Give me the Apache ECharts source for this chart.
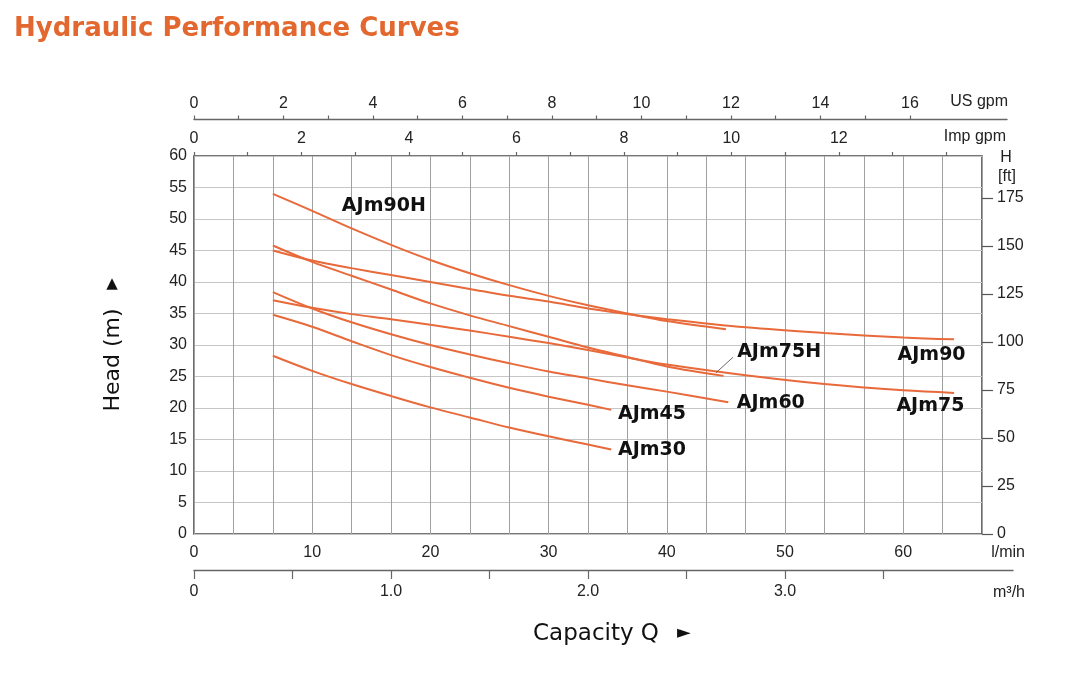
<!DOCTYPE html>
<html>
<head>
<meta charset="utf-8">
<script src="https://cdn.jsdelivr.net/npm/echarts/dist/echarts.min.js"></script>
<style>
html,body{margin:0;padding:0;background:#fff;}
#chart{width:1074px;height:691px;}
</style>
</head>
<body>
<div id="chart"></div>
<script>
// ---------- DATA (flow in l/min, head in m) ----------
const curveNames = ['AJm90H', 'AJm90', 'AJm75H', 'AJm75', 'AJm60', 'AJm45', 'AJm30'];

const flowAJm90H = [6.67, 10, 13.33, 16.67, 20, 23.33, 26.67, 30, 33.33, 36.67, 40, 45];
const headAJm90H = [54.0, 51.3, 48.5, 45.9, 43.5, 41.4, 39.5, 37.8, 36.3, 35.0, 33.8, 32.5];

const flowAJm90 = [6.67, 10, 13.33, 16.67, 20, 23.33, 26.67, 30, 33.33, 36.67, 40, 46.67, 53.33, 60, 64.3];
const headAJm90 = [45.0, 43.4, 42.2, 41.1, 40.0, 38.9, 37.8, 36.9, 35.8, 34.9, 34.1, 32.8, 31.9, 31.2, 30.9];

const flowAJm75H = [6.67, 10, 13.33, 16.67, 20, 23.33, 26.67, 30, 33.33, 36.67, 40, 44.8];
const headAJm75H = [45.8, 43.2, 41.0, 38.8, 36.6, 34.7, 33.0, 31.3, 29.6, 28.1, 26.6, 25.1];

const flowAJm75 = [6.67, 10, 13.33, 16.67, 20, 23.33, 26.67, 30, 33.33, 36.67, 40, 46.67, 53.33, 60, 64.3];
const headAJm75 = [37.1, 35.9, 34.9, 34.1, 33.2, 32.3, 31.3, 30.3, 29.2, 28.0, 26.9, 25.2, 23.8, 22.8, 22.4];

const flowAJm60 = [6.67, 10, 13.33, 16.67, 20, 23.33, 26.67, 30, 33.33, 36.67, 40, 45.2];
const headAJm60 = [38.4, 35.8, 33.6, 31.7, 30.0, 28.5, 27.1, 25.8, 24.7, 23.6, 22.6, 20.9];

const flowAJm45 = [6.67, 10, 13.33, 16.67, 20, 23.33, 26.67, 30, 33.33, 35.3];
const headAJm45 = [34.8, 32.9, 30.6, 28.4, 26.5, 24.8, 23.2, 21.8, 20.5, 19.7];

const flowAJm30 = [6.67, 10, 13.33, 16.67, 20, 23.33, 26.67, 30, 33.33, 35.3];
const headAJm30 = [28.3, 25.9, 23.8, 21.9, 20.1, 18.5, 16.9, 15.5, 14.2, 13.4];

// axis ranges / ticks
const flowMax = 200 / 3;           // l/min  (= 4.0 m3/h)
const headMax = 60;                // m
const headTicks = 5;
const flowLabelStep = 10;          // l/min labels
const m3hGridStep = 0.2;           // m3/h grid lines
const m3hTickStep = 0.5;
const m3hTickMax = 3.5;
const usTickMax = 16;
const impTickMax = 14;
const ftTickMax = 175;
const ftStep = 25;

// unit conversions
const L_PER_USGAL = 3.78541;
const L_PER_IMPGAL = 4.54609;
const LMIN_PER_M3H = 1000 / 60;
const FT_PER_M = 3.28084;

// ---------- LAYOUT ----------
const plotL = 194, plotT = 156, plotW = 788, plotH = 378;
const pxPerLmin = plotW / flowMax;
const usLineW = 813, usTop = 119.5;
const m3LineW = 819, m3Top = 570;

const curveColor = '#E8693A';
const labelFont = 'DejaVu Sans';
const tickFont = 'Liberation Sans';

const flows = {AJm90H: flowAJm90H, AJm90: flowAJm90, AJm75H: flowAJm75H, AJm75: flowAJm75, AJm60: flowAJm60, AJm45: flowAJm45, AJm30: flowAJm30};
const heads = {AJm90H: headAJm90H, AJm90: headAJm90, AJm75H: headAJm75H, AJm75: headAJm75, AJm60: headAJm60, AJm45: headAJm45, AJm30: headAJm30};
// label centres (data coordinates)
const labelAt = {AJm90H: [16.06, 52.1], AJm90: [62.4, 28.4], AJm75H: [49.5, 28.8], AJm75: [62.3, 20.3], AJm60: [48.8, 20.8], AJm45: [38.75, 19.05], AJm30: [38.75, 13.3]};

const tickText = {fontFamily: tickFont, fontSize: 16, color: '#222'};
const noLine = {show: false, onZero: false};
const hiddenX = (gi) => ({type: 'value', gridIndex: gi, show: false, min: 0, max: 1, axisLine: noLine});
const hiddenY = (gi) => ({type: 'value', gridIndex: gi, show: false, min: 0, max: 1, axisLine: noLine});

const series = curveNames.map(name => {
  const s = {
    name: name,
    type: 'line',
    xAxisIndex: 0,
    yAxisIndex: 0,
    smooth: 0.35,
    symbol: 'none',
    lineStyle: {color: curveColor, width: 2},
    data: flows[name].map((q, i) => [q, heads[name][i]]),
    markPoint: {
      silent: true,
      symbol: 'circle',
      symbolSize: 1,
      itemStyle: {color: 'rgba(0,0,0,0)'},
      label: {show: true, position: 'inside', formatter: name, color: '#111', fontFamily: labelFont, fontWeight: 'bold', fontSize: 19},
      data: [{coord: labelAt[name]}]
    }
  };
  if (name === 'AJm75H') {
    s.markLine = {
      silent: true,
      symbol: ['none', 'none'],
      label: {show: false},
      lineStyle: {color: '#444', width: 0.8, type: 'solid'},
      data: [[{coord: [44.16, 25.6]}, {coord: [45.6, 28.05]}]]
    };
  }
  return s;
});

const ftH = plotH * (ftTickMax / FT_PER_M) / headMax;

const option = {
  animation: false,
  backgroundColor: '#fff',
  grid: [
    {left: plotL, top: plotT, width: plotW, height: plotH, show: true, borderColor: '#4a4a4a', borderWidth: 1.6},   // 0 main
    {left: plotL, top: plotT + plotH - ftH, width: plotW, height: ftH},                                               // 1 ft
    {left: plotL, top: usTop, width: usLineW, height: 1},                                                             // 2 US line
    {left: plotL, top: usTop, width: usTickMax * L_PER_USGAL * pxPerLmin, height: 1},                                 // 3 US ticks
    {left: plotL, top: plotT, width: impTickMax * L_PER_IMPGAL * pxPerLmin, height: 1},                               // 4 Imp ticks
    {left: plotL, top: m3Top, width: m3LineW, height: 1},                                                             // 5 m3/h line
    {left: plotL, top: m3Top, width: m3hTickMax * LMIN_PER_M3H * pxPerLmin, height: 1}                                // 6 m3/h ticks
  ],
  xAxis: [
    { // 0 l/min
      type: 'value', gridIndex: 0, position: 'bottom', min: 0, max: flowMax, interval: flowLabelStep,
      axisLine: noLine, axisTick: {show: false}, splitLine: {show: false},
      axisLabel: Object.assign({margin: 11, showMaxLabel: false, formatter: v => v <= 60 ? String(v) : ''}, tickText)
    },
    { // 1 grid lines every 0.2 m3/h
      type: 'value', gridIndex: 0, position: 'bottom', min: 0, max: flowMax / LMIN_PER_M3H, interval: m3hGridStep,
      axisLine: noLine, axisTick: {show: false}, axisLabel: {show: false},
      splitLine: {show: true, lineStyle: {color: '#a0a0a0', width: 1}}
    },
    hiddenX(1), // 2
    { // 3 US gpm line
      type: 'value', gridIndex: 2, position: 'top', min: 0, max: 1,
      axisLine: {show: true, onZero: false, lineStyle: {color: '#666', width: 1.4}}, axisTick: {show: false}, axisLabel: {show: false}, splitLine: {show: false}
    },
    { // 4 US gpm ticks
      type: 'value', gridIndex: 3, position: 'top', min: 0, max: usTickMax, interval: 2,
      axisLine: noLine,
      axisTick: {show: true, length: 4, lineStyle: {color: '#666', width: 1.2}},
      minorTick: {show: true, splitNumber: 2, length: 4, lineStyle: {color: '#666', width: 1.2}},
      axisLabel: Object.assign({margin: 8}, tickText), splitLine: {show: false}
    },
    { // 5 Imp gpm ticks
      type: 'value', gridIndex: 4, position: 'top', min: 0, max: impTickMax, interval: 2,
      axisLine: noLine,
      axisTick: {show: true, length: 4, lineStyle: {color: '#666', width: 1.2}},
      minorTick: {show: true, splitNumber: 2, length: 4, lineStyle: {color: '#666', width: 1.2}},
      axisLabel: Object.assign({margin: 9, formatter: v => v === 14 ? '' : String(v)}, tickText), splitLine: {show: false}
    },
    { // 6 m3/h line
      type: 'value', gridIndex: 5, position: 'top', min: 0, max: 1,
      axisLine: {show: true, onZero: false, lineStyle: {color: '#666', width: 1.4}}, axisTick: {show: false}, axisLabel: {show: false}, splitLine: {show: false}
    },
    { // 7 m3/h ticks
      type: 'value', gridIndex: 6, position: 'top', min: 0, max: m3hTickMax, interval: m3hTickStep,
      axisLine: noLine,
      axisTick: {show: true, inside: true, length: 9, lineStyle: {color: '#666', width: 1.2}},
      axisLabel: Object.assign({margin: -14, verticalAlign: 'top', formatter: v => v === 0 ? '0' : (Number.isInteger(v) ? v.toFixed(1) : '')}, tickText),
      splitLine: {show: false}
    }
  ],
  yAxis: [
    { // 0 head m
      type: 'value', gridIndex: 0, position: 'left', min: 0, max: headMax, interval: headTicks,
      axisLine: noLine, axisTick: {show: false},
      axisLabel: Object.assign({margin: 7}, tickText),
      splitLine: {show: true, lineStyle: {color: '#c6c6c6', width: 1}}
    },
    { // 1 head ft
      type: 'value', gridIndex: 1, position: 'right', min: 0, max: ftTickMax, interval: ftStep,
      axisLine: noLine,
      axisTick: {show: true, length: 11, lineStyle: {color: '#555', width: 1.2}},
      axisLabel: Object.assign({margin: 15}, tickText),
      splitLine: {show: false}
    },
    hiddenY(2), hiddenY(3), hiddenY(4), hiddenY(5), hiddenY(6)
  ],
  series: series,
  graphic: [
    {type: 'text', left: 14, top: 16, style: {text: 'Hydraulic Performance Curves', fill: '#E2682F', font: 'bold 26px "DejaVu Sans"'}},
    {type: 'text', x: 1008, y: 102, style: {text: 'US gpm', fill: '#222', font: '16px "Liberation Sans"', textAlign: 'right', textVerticalAlign: 'middle'}},
    {type: 'text', x: 1006, y: 137, style: {text: 'Imp gpm', fill: '#222', font: '16px "Liberation Sans"', textAlign: 'right', textVerticalAlign: 'middle'}},
    {type: 'text', x: 1006, y: 158, style: {text: 'H', fill: '#222', font: '16px "Liberation Sans"', textAlign: 'center', textVerticalAlign: 'middle'}},
    {type: 'text', x: 1007, y: 177, style: {text: '[ft]', fill: '#222', font: '16px "Liberation Sans"', textAlign: 'center', textVerticalAlign: 'middle'}},
    {type: 'text', x: 1025, y: 553, style: {text: 'l/min', fill: '#222', font: '16px "Liberation Sans"', textAlign: 'right', textVerticalAlign: 'middle'}},
    {type: 'text', x: 1025, y: 593, style: {text: 'm³/h', fill: '#222', font: '16px "Liberation Sans"', textAlign: 'right', textVerticalAlign: 'middle'}},
    {type: 'text', x: 596, y: 634, style: {text: 'Capacity Q', fill: '#111', font: '23px "DejaVu Sans"', textAlign: 'center', textVerticalAlign: 'middle'}},
    {type: 'text', x: 684, y: 633, style: {text: '►', fill: '#111', font: '18px "DejaVu Sans"', textAlign: 'center', textVerticalAlign: 'middle'}},
    {type: 'text', x: 113, y: 360, rotation: Math.PI / 2, style: {text: 'Head (m)', fill: '#111', font: '22px "DejaVu Sans"', textAlign: 'center', textVerticalAlign: 'middle'}},
    {type: 'text', x: 112, y: 284, style: {text: '▲', fill: '#111', font: '15px "DejaVu Sans"', textAlign: 'center', textVerticalAlign: 'middle'}}
  ]
};

const chart = echarts.init(document.getElementById('chart'), null, {renderer: 'canvas'});
chart.setOption(option);
</script>
</body>
</html>
